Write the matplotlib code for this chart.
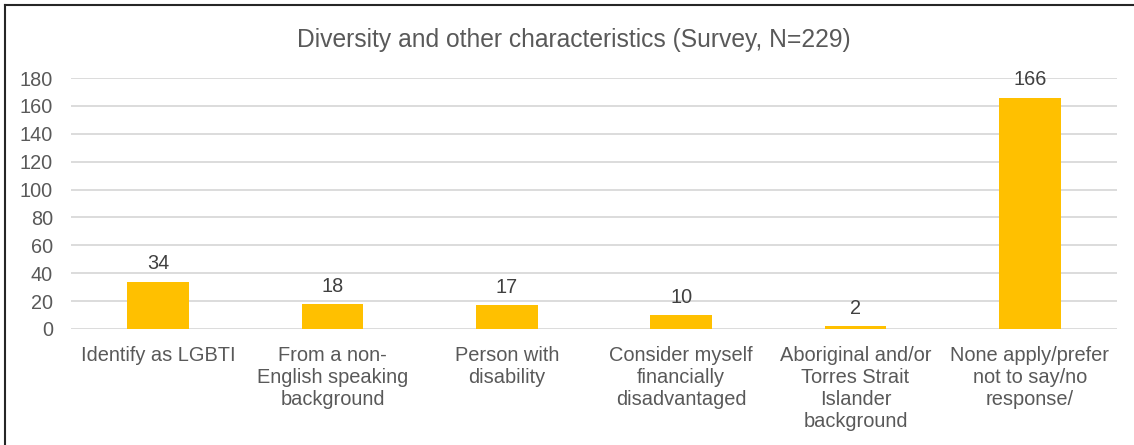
import matplotlib
matplotlib.use("Agg")
from matplotlib import pyplot as plt
from matplotlib.lines import Line2D
import numpy as np

plt.rcParams['font.family'] = ['Liberation Sans', 'DejaVu Sans']

categories = [
    "Identify as LGBTI",
    "From a non-\nEnglish speaking\nbackground",
    "Person with\ndisability",
    "Consider myself\nfinancially\ndisadvantaged",
    "Aboriginal and/or\nTorres Strait\nIslander\nbackground",
    "None apply/prefer\nnot to say/no\nresponse/",
]
counts = [34, 18, 17, 10, 2, 166]
y_ticks = list(range(0, 181, 20))

W, H = 1134, 445
fig = plt.figure(figsize=(W / 100, H / 100), dpi=100)
ax = fig.add_axes([71 / W, 1 - 329 / H, (1117 - 71) / W, (329 - 78) / H])

x = np.arange(len(categories))
bars = ax.bar(x, counts, width=0.355, color="#FFC000", zorder=3)

for xi, v in zip(x, counts):
    ax.annotate(str(v), (xi, v), xytext=(0, 6), textcoords="offset points",
                ha="center", va="bottom", fontsize=14.3, color="#404040")

ax.set_xlim(-0.5, len(categories) - 0.5)
ax.set_ylim(0, 180)
ax.set_yticks(y_ticks)
ax.set_xticks(x)
ax.set_xticklabels(categories, fontsize=14.4, color="#595959", linespacing=1.2)
ax.tick_params(axis="y", length=0, pad=13, labelsize=14.3, labelcolor="#595959")
ax.tick_params(axis="x", length=0, pad=12)
ax.grid(axis="y", color="#D9D9D9", linewidth=1.3, zorder=0)
for s in ax.spines.values():
    s.set_visible(False)

fig.text(574 / W, 1 - 40 / H, "Diversity and other characteristics (Survey, N=229)",
         ha="center", va="center", fontsize=17.7, color="#595959")

# outer frame (top and left edges)
fig.add_artist(Line2D([5 / W, 5 / W], [0, 1 - 5 / H], transform=fig.transFigure,
                      color="#262626", linewidth=1.5))
fig.add_artist(Line2D([5 / W, 1], [1 - 5 / H, 1 - 5 / H], transform=fig.transFigure,
                      color="#262626", linewidth=1.5))

fig.savefig("out.png", dpi=100, facecolor="white")
